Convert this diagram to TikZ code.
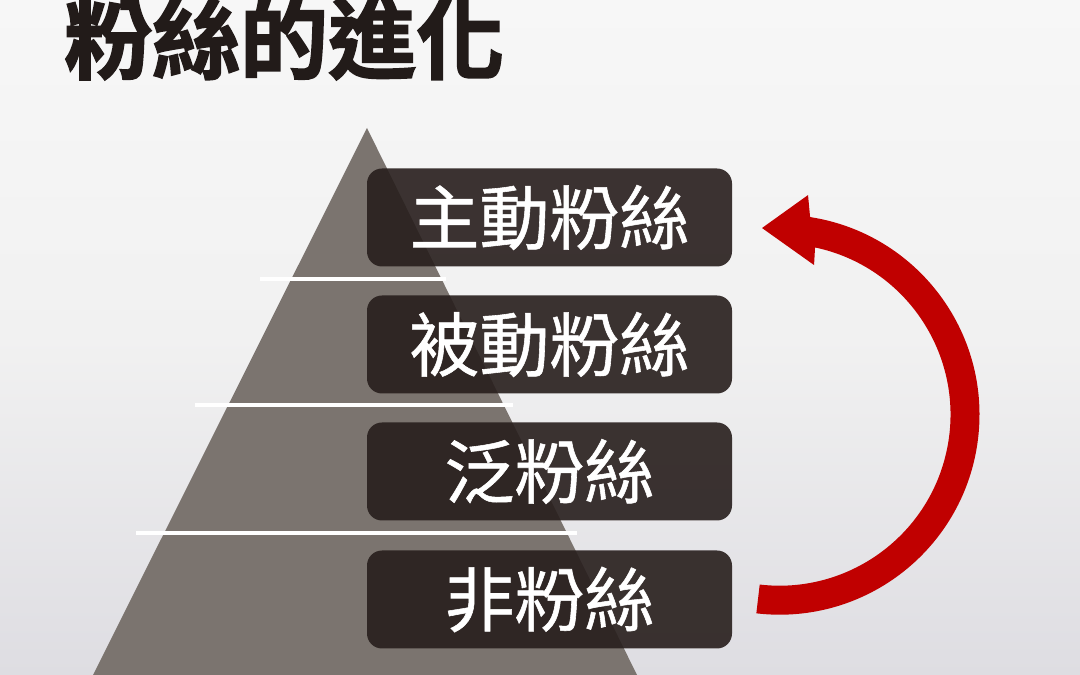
\documentclass[tikz,border=0pt]{standalone}
\usepackage{fontspec}
\newfontfamily\cjk{Noto Sans CJK TC}[FakeBold=0.8]
\newfontfamily\cjkbold{Noto Sans CJK TC Bold}[FakeBold=2]
\usetikzlibrary{calc}
\definecolor{bgtop}{RGB}{247,247,247}
\definecolor{bgmid}{RGB}{241,241,241}
\definecolor{bgbot}{RGB}{222,221,226}
\definecolor{pyr}{RGB}{123,116,111}
\definecolor{boxc}{RGB}{39,30,28}
\definecolor{titlec}{RGB}{34,27,25}
\definecolor{arrowred}{RGB}{192,0,0}
\tikzset{
  levelbox/.style={fill=boxc, fill opacity=0.9, text opacity=1, rounded corners=15pt,
    minimum width=365pt, minimum height=98pt, inner sep=0pt, text=white,
    font=\cjk\fontsize{70}{70}\selectfont},
  sepline/.style={draw=white, line width=4pt},
}
\begin{document}
\begin{tikzpicture}[x=1pt,y=1pt]
\useasboundingbox (0,0) rectangle (1080,675);
\clip (0,0) rectangle (1080,675);
\shade[top color=bgtop, bottom color=bgbot, middle color=bgmid] (0,0) rectangle (1080,675);
% title
\node[anchor=base west, inner sep=0pt, text=titlec, font=\cjkbold\fontsize{88}{88}\selectfont] (title) at (64,603) {粉絲的進化};
% pyramid
\coordinate (apex) at (367,547);
\coordinate (bl) at (93,0);
\coordinate (br) at (637,0);
\fill[pyr] (apex) -- (bl) -- (br) -- cycle;
% separator lines
\draw[sepline] (260,396) -- (446,396);
\draw[sepline] (195,270) -- (513,270);
\draw[sepline] (136,142) -- (577,142);
% boxes
\node[levelbox] (b1) at (549.5,457.5) {主動粉絲};
\node[levelbox] (b2) at (549.5,330.5) {被動粉絲};
\node[levelbox] (b3) at (549.5,203.5) {泛粉絲};
\node[levelbox] (b4) at (549.5,75.5) {非粉絲};
% red arrow
\coordinate (O) at (779.5,260.3);
\fill[arrowred] ($(O)+(-96.65:200)$) arc[start angle=-96.65, end angle=81.2, radius=200]
  -- ($(O)+(82.6:221.5)$) -- ($(O)+(95.35:187.5)$) -- ($(O)+(77:153.6)$)
  -- ($(O)+(78:171)$) arc[start angle=78, end angle=-96.65, radius=171] -- cycle;
\end{tikzpicture}
\end{document}
